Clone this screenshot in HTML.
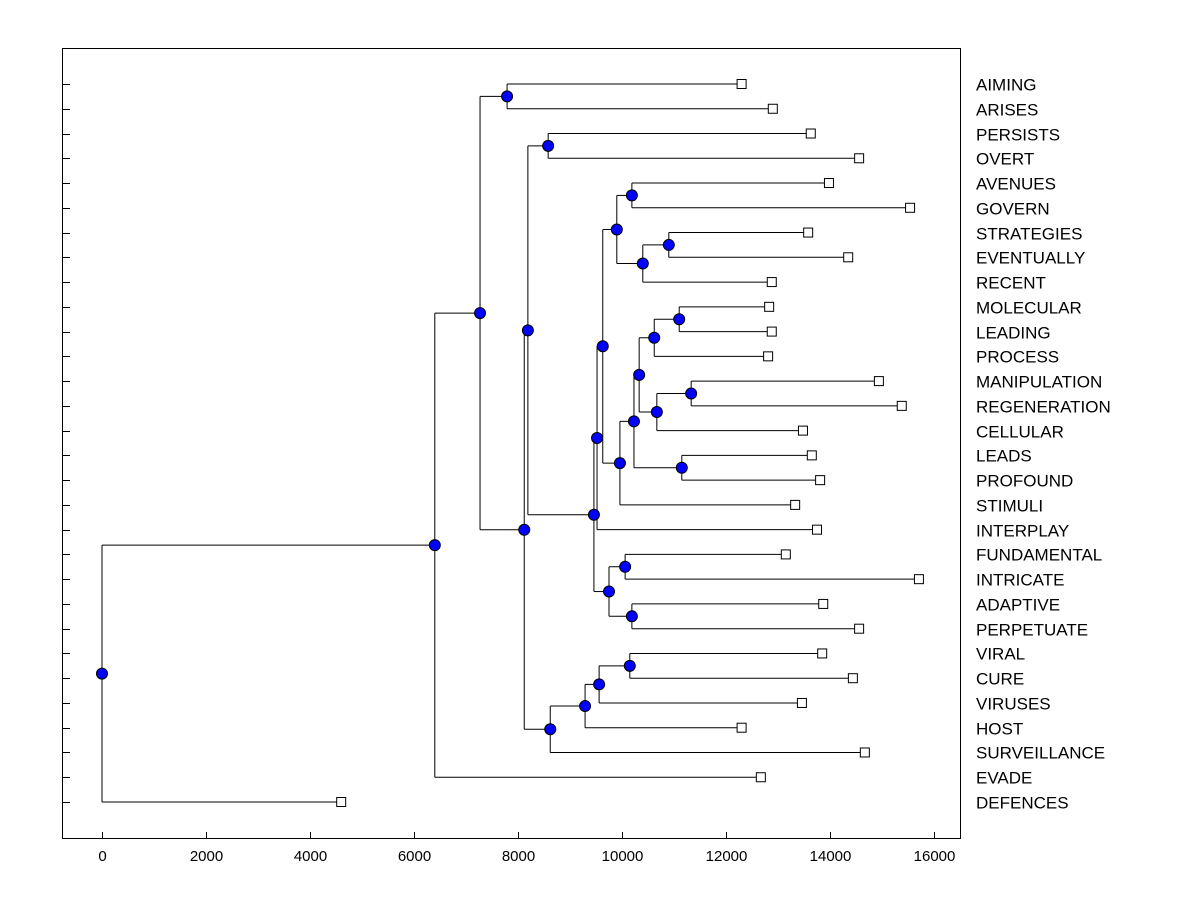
<!DOCTYPE html>
<html><head><meta charset="utf-8"><style>
body{margin:0;background:#fff;}
svg{display:block;font-family:"Liberation Sans",Arial,sans-serif;}
</style></head><body>
<svg id="chart" width="1200" height="900"></svg>
<script>
const leafNames=["AIMING","ARISES","PERSISTS","OVERT","AVENUES","GOVERN","STRATEGIES","EVENTUALLY","RECENT","MOLECULAR","LEADING","PROCESS","MANIPULATION","REGENERATION","CELLULAR","LEADS","PROFOUND","STIMULI","INTERPLAY","FUNDAMENTAL","INTRICATE","ADAPTIVE","PERPETUATE","VIRAL","CURE","VIRUSES","HOST","SURVEILLANCE","EVADE","DEFENCES"];
const leafValues=[12300,12900,13630,14560,13980,15540,13580,14350,12880,12830,12880,12810,14940,15380,13480,13650,13810,13330,13750,13150,15710,13870,14560,13850,14440,13460,12300,14670,12670,4600];
const mergeChildren=[["L0","L1"],["L2","L3"],["L4","L5"],["L6","L7"],["N3","L8"],["N2","N4"],["L9","L10"],["N6","L11"],["L12","L13"],["N8","L14"],["N7","N9"],["L15","L16"],["N10","N11"],["N12","L17"],["N5","N13"],["N14","L18"],["L19","L20"],["L21","L22"],["N16","N17"],["N15","N18"],["N1","N19"],["L23","L24"],["N21","L25"],["N22","L26"],["N23","L27"],["N20","N24"],["N0","N25"],["N26","L28"],["N27","L29"]];
const mergeHeights=[7790,8580,10190,10900,10400,9900,11100,10620,11330,10670,10330,11150,10230,9960,9630,9520,10060,10190,9750,9460,8190,10150,9560,9290,8620,8120,7270,6400,0];
const xTicks=[0,2000,4000,6000,8000,10000,12000,14000,16000];

const svg=document.getElementById('chart');
const NS="http://www.w3.org/2000/svg";
const X=v=>102+v*0.052;
const rowY=i=>84+i*(802-84)/29;
function el(t,a,p){const e=document.createElementNS(NS,t);for(const k in a)e.setAttribute(k,a[k]);(p||svg).appendChild(e);return e;}

const frame=el('rect',{x:62.5,y:48.5,width:898,height:790,fill:'none',stroke:'#000','stroke-width':1});



const gL=el('g',{});



leafNames.forEach((n,i)=>{
  const y=Math.round(rowY(i))+0.5;
  el('line',{x1:62,x2:70,y1:y,y2:y,stroke:'#000'});
  const t=el('text',{x:976,y:y+6,'font-size':17,fill:'#000'});
  t.textContent=n;
  
  
});
xTicks.forEach(v=>{
  const x=Math.round(X(v))+0.5;
  el('line',{x1:x,x2:x,y1:838,y2:832,stroke:'#000'});
  const t=el('text',{x:x,y:861,'font-size':15,'text-anchor':'middle',fill:'#000'});
  t.textContent=v;
  
  
});

const pos={};
leafNames.forEach((n,i)=>{pos['L'+i]={x:X(leafValues[i]),y:rowY(i)};});
mergeChildren.forEach((c,i)=>{
  const a=pos[c[0]],b=pos[c[1]];
  const x=X(mergeHeights[i]);
  pos['N'+i]={x:x,y:(a.y+b.y)/2};
  el('line',{x1:x,x2:x,y1:a.y,y2:b.y,stroke:'#000'},gL);
  el('line',{x1:x,x2:a.x,y1:a.y,y2:a.y,stroke:'#000'},gL);
  el('line',{x1:x,x2:b.x,y1:b.y,y2:b.y,stroke:'#000'},gL);
});
leafNames.forEach((n,i)=>{
  const p=pos['L'+i];
  const r=el('rect',{x:p.x-4.5,y:p.y-4.5,width:9,height:9,fill:'#fff',stroke:'#000'});
  
  
});
mergeChildren.forEach((c,i)=>{
  const p=pos['N'+i];
  const e=el('circle',{cx:p.x,cy:p.y,r:5.5,fill:'#0000ff',stroke:'#000'});
  
  
});
</script>
</body></html>
